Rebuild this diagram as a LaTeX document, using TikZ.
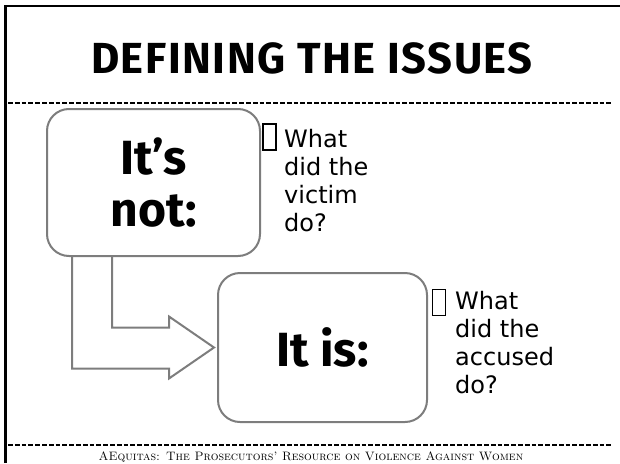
\documentclass[tikz,border=0pt]{standalone}
\usepackage{fontspec}
\newfontfamily\headfont[LetterSpace=3.5]{Fira Sans}
\newfontfamily\boxfont{Fira Sans}
\newfontfamily\askfont{DejaVu Sans}
\usetikzlibrary{calc}
\definecolor{boxgray}{RGB}{125,125,125}

\begin{document}
\begin{tikzpicture}[x=1pt,y=-1pt,
    issuebox/.style={draw=boxgray,line width=2pt,rounded corners=22pt,fill=white,
      font=\boxfont\bfseries\fontsize{48}{52}\selectfont,align=center,inner sep=0pt},
    question/.style={anchor=north west,inner sep=0pt,align=left,
      font=\askfont\fontsize{24}{28}\selectfont},
    bulletbox/.style={draw=black,line width=1.3pt,minimum width=13pt,
      minimum height=26pt,inner sep=0pt},
    dashline/.style={line width=2.8pt,dash pattern=on 4.8pt off 2pt},
    arrowline/.style={draw=boxgray,line width=2pt}]
  \useasboundingbox (0,0) rectangle (620,463);
  % frame and rules
  \draw[line width=2.5pt] (5.5,463) -- (5.5,6) -- (620,6);
  \draw[dashline] (8,103) -- (612,103);
  \draw[dashline] (8,445) -- (612,445);
  % title
  \node[font=\headfont\bfseries\fontsize{43.5}{50}\selectfont,anchor=base] (title) at (312,73) {DEFINING THE ISSUES};
  % the two boxes
  \node[issuebox,minimum width=213pt,minimum height=147pt] (notbox) at (153.5,182.5) {It’s\\not:};
  \node[issuebox,minimum width=209pt,minimum height=149pt] (isbox) at (322.5,347.5) {It is:};
  % bent arrow
  \coordinate (tip) at ([xshift=-3pt]isbox.west);
  \draw[arrowline] ([xshift=66pt]notbox.south west) |- ($(tip)+(-45,-20)$) -- ++(0,-11)
    -- (tip) -- ($(tip)+(-45,31)$) -- ++(0,-10) -| ([xshift=26pt]notbox.south west);
  % questions
  \node[bulletbox] (bul1) at (269.5,137) {};
  \node[question] (ask1) at (284,129) {What\\did the\\victim\\do?};
  \node[bulletbox] (bul2) at (439,302.5) {};
  \node[question] (ask2) at (455,291) {What\\did the\\accused\\do?};
  % footer
  \node[font=\fontsize{12.2}{14}\selectfont,anchor=base] (footer) at (311,460.5)
    {\textsc{AEquitas: The Prosecutors’ Resource on Violence Against Women}};
\end{tikzpicture}
\end{document}
